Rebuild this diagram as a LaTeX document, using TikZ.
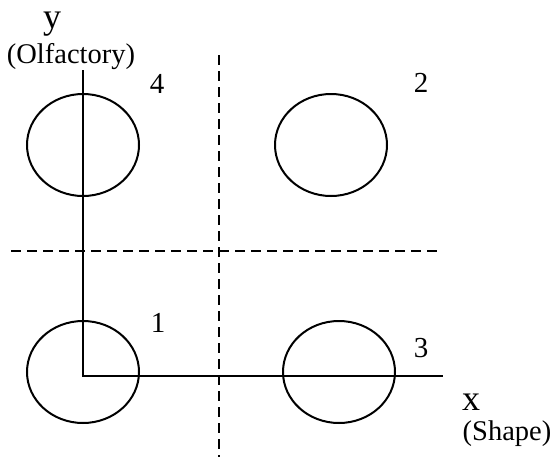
\documentclass[tikz,border=0pt]{standalone}
\usepackage{fontspec}
\setmainfont{Liberation Serif}
\usetikzlibrary{shapes.geometric}
\begin{document}
\begin{tikzpicture}[x=1pt,y=-1pt,
  blob/.style={draw,ellipse,line width=2pt,inner sep=0pt,minimum width=112pt,minimum height=102pt},
  axisline/.style={line width=2pt},
  divider/.style={line width=2pt,dash pattern=on 10pt off 6pt},
  num/.style={font=\fontsize{29}{31}\selectfont,inner sep=0pt},
  axlab/.style={font=\fontsize{36}{38}\selectfont,inner sep=0pt},
  sublab/.style={font=\fontsize{28.5}{30}\selectfont,inner sep=0pt}]
\useasboundingbox (0,0) rectangle (556,466);
% axes
\coordinate (origin) at (83,376);
\coordinate (ytop) at (83,70);
\coordinate (xend) at (443,376);
\draw[axisline] (ytop) -- (origin) -- (xend);
% dashed dividers
\coordinate (vtop) at (219,55);
\coordinate (vbot) at (219,457);
\coordinate (hleft) at (11,251);
\coordinate (hright) at (443,251);
\draw[divider] (vtop) -- (vbot);
\draw[divider] (hleft) -- (hright);
% clusters
\node[blob] (c4) at (83,145) {};
\node[blob] (c2) at (331,145) {};
\node[blob] (c1) at (83,372) {};
\node[blob] (c3) at (339,372) {};
% labels
\node[num] (n4) at (157,84) {4};
\node[num] (n2) at (421,83) {2};
\node[num] (n1) at (158,323) {1};
\node[num] (n3) at (421,348) {3};
\node[axlab,anchor=base] (ylab) at (52,28) {y};
\node[sublab,anchor=base] (ysub) at (71,63) {(Olfactory)};
\node[axlab,anchor=base] (xlab) at (471,410) {x};
\node[sublab,anchor=base] (xsub) at (507,440) {(Shape)};
\end{tikzpicture}
\end{document}
